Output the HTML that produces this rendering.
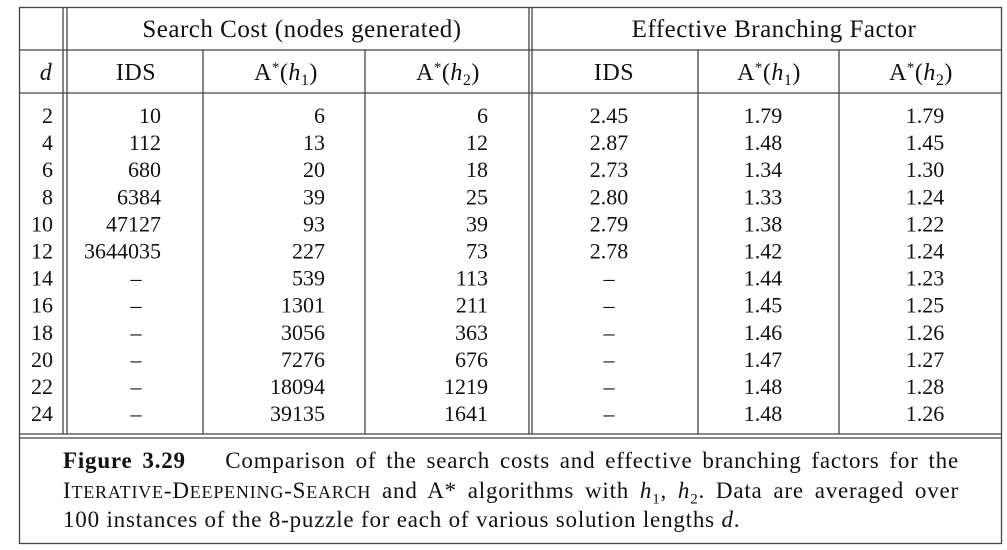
<!DOCTYPE html>
<html><head><meta charset="utf-8"><style>
body{margin:0;background:#fff;width:1007px;height:550px;overflow:hidden;position:relative}
svg{display:block}
text{font-family:"Liberation Serif",serif;fill:#111}
.cl{font-family:"Liberation Serif",serif;font-size:23px;letter-spacing:0.8px;color:#111;position:absolute;left:63px;width:896px;white-space:nowrap;line-height:24px}
.j{text-align:justify;text-align-last:justify}
.sc{font-size:18px}
sub{font-size:15px;line-height:0}
</style></head><body>
<svg id="t" width="1007" height="550">
<g stroke="#444" stroke-width="1.3" fill="none">
<rect x="19.5" y="7.5" width="982" height="536"/>
<line x1="63" y1="7" x2="63" y2="434"/><line x1="67" y1="7" x2="67" y2="434"/>
<line x1="529" y1="7" x2="529" y2="434"/><line x1="532" y1="7" x2="532" y2="434"/>
<line x1="19" y1="50" x2="1002" y2="50"/><line x1="19" y1="93" x2="1002" y2="93"/>
<line x1="203" y1="50" x2="203" y2="434"/><line x1="365" y1="50" x2="365" y2="434"/>
<line x1="698" y1="50" x2="698" y2="434"/><line x1="839" y1="50" x2="839" y2="434"/>
<line x1="19" y1="434" x2="1002" y2="434"/><line x1="19" y1="438" x2="1002" y2="438"/>
</g>
<g font-size="25" letter-spacing="0.5">
<text x="302" y="37" text-anchor="middle">Search Cost (nodes generated)</text>
<text x="774" y="37" text-anchor="middle">Effective Branching Factor</text>
</g>
<g font-size="24" text-anchor="middle" letter-spacing="0.5">
<text x="46" y="80" font-style="italic">d</text>
<text x="136" y="80">IDS</text>
<text x="286" y="80">A<tspan font-size="15" dy="-8">*</tspan><tspan dy="8">(</tspan><tspan font-style="italic">h</tspan><tspan font-size="16" dy="5">1</tspan><tspan dy="-5">)</tspan></text>
<text x="448" y="80">A<tspan font-size="15" dy="-8">*</tspan><tspan dy="8">(</tspan><tspan font-style="italic">h</tspan><tspan font-size="16" dy="5">2</tspan><tspan dy="-5">)</tspan></text>
<text x="614" y="80">IDS</text>
<text x="769" y="80">A<tspan font-size="15" dy="-8">*</tspan><tspan dy="8">(</tspan><tspan font-style="italic">h</tspan><tspan font-size="16" dy="5">1</tspan><tspan dy="-5">)</tspan></text>
<text x="921" y="80">A<tspan font-size="15" dy="-8">*</tspan><tspan dy="8">(</tspan><tspan font-style="italic">h</tspan><tspan font-size="16" dy="5">2</tspan><tspan dy="-5">)</tspan></text>
</g>
<g id="rows"></g>
</svg>
<div>
<div class="cl j" style="top:449px"><b>Figure&nbsp;3.29</b>&nbsp;&nbsp;&nbsp; Comparison of the search costs and effective branching factors for the</div>
<div class="cl j" style="top:479px">I<span class="sc">TERATIVE</span>-D<span class="sc">EEPENING</span>-S<span class="sc">EARCH</span> and A* algorithms with <i>h</i><sub>1</sub>, <i>h</i><sub>2</sub>. Data are averaged over</div>
<div class="cl" style="top:508px">100 instances of the 8-puzzle for each of various solution lengths <i>d</i>.</div>
</div>
<script>
const depths=[2,4,6,8,10,12,14,16,18,20,22,24];
const idsCost=["10","112","680","6384","47127","3644035","–","–","–","–","–","–"];
const a1Cost=["6","13","20","39","93","227","539","1301","3056","7276","18094","39135"];
const a2Cost=["6","12","18","25","39","73","113","211","363","676","1219","1641"];
const idsEbf=["2.45","2.87","2.73","2.80","2.79","2.78","–","–","–","–","–","–"];
const a1Ebf=["1.79","1.48","1.34","1.33","1.38","1.42","1.44","1.45","1.46","1.47","1.48","1.48"];
const a2Ebf=["1.79","1.45","1.30","1.24","1.22","1.24","1.23","1.25","1.26","1.27","1.28","1.26"];
const g=document.getElementById('rows');
function put(x,y,s,anchor,name){
 const t=document.createElementNS('http://www.w3.org/2000/svg','text');
 t.setAttribute('x',x);t.setAttribute('y',y);t.setAttribute('font-size','22');
 t.setAttribute('text-anchor',anchor);t.textContent=s;
 
 
 g.appendChild(t);
}
depths.forEach((d,i)=>{
 const y=123+i*27.1;
 put(53,y,String(d),'end','depth-cell');
 if(idsCost[i]==='–')put(136,y,'–','middle','ids-cost-cell');else put(161,y,idsCost[i],'end','ids-cost-cell');
 put(325,y,a1Cost[i],'end','a1-cost-cell');
 put(488,y,a2Cost[i],'end','a2-cost-cell');
 put(609,y,idsEbf[i],'middle','ids-ebf-cell');
 put(763,y,a1Ebf[i],'middle','a1-ebf-cell');
 put(925,y,a2Ebf[i],'middle','a2-ebf-cell');
});
</script>
</body></html>
